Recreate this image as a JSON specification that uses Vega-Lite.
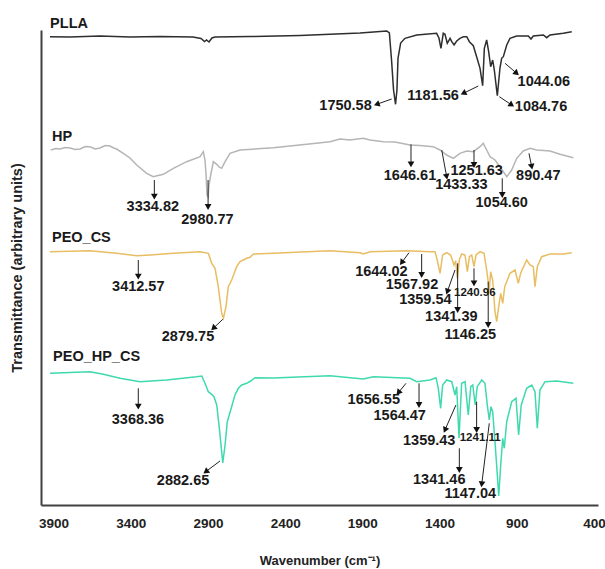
{
  "$schema": "https://vega.github.io/schema/vega-lite/v6.json",
  "width": 557,
  "height": 475,
  "autosize": {"type": "none"},
  "padding": {"left": 41, "top": 30, "right": 7, "bottom": 64},
  "config": {"view": {"stroke": null}, "font": "Liberation Sans", "background": "white"},
  "datasets": {
    "spectra": [
      {"series": "PLLA", "w": 3923, "t": 468.3}, {"series": "PLLA", "w": 3793, "t": 468}, {"series": "PLLA", "w": 3599, "t": 469}, {"series": "PLLA", "w": 3405, "t": 468}, {"series": "PLLA", "w": 3210, "t": 468.5}, {"series": "PLLA", "w": 2997, "t": 468}, {"series": "PLLA", "w": 2945, "t": 466.5}, {"series": "PLLA", "w": 2922, "t": 463.5}, {"series": "PLLA", "w": 2909, "t": 465}, {"series": "PLLA", "w": 2893, "t": 463}, {"series": "PLLA", "w": 2874, "t": 467}, {"series": "PLLA", "w": 2854, "t": 468}, {"series": "PLLA", "w": 2627, "t": 468.5}, {"series": "PLLA", "w": 2304, "t": 469.5}, {"series": "PLLA", "w": 2110, "t": 470.7}, {"series": "PLLA", "w": 1915, "t": 472}, {"series": "PLLA", "w": 1742, "t": 474}, {"series": "PLLA", "w": 1725, "t": 472}, {"series": "PLLA", "w": 1711, "t": 445}, {"series": "PLLA", "w": 1698, "t": 415}, {"series": "PLLA", "w": 1685, "t": 400.7}, {"series": "PLLA", "w": 1676, "t": 415}, {"series": "PLLA", "w": 1669, "t": 447}, {"series": "PLLA", "w": 1652, "t": 462}, {"series": "PLLA", "w": 1624, "t": 466.7}, {"series": "PLLA", "w": 1548, "t": 470}, {"series": "PLLA", "w": 1419, "t": 471.7}, {"series": "PLLA", "w": 1404, "t": 467}, {"series": "PLLA", "w": 1391, "t": 456.7}, {"series": "PLLA", "w": 1376, "t": 471.7}, {"series": "PLLA", "w": 1365, "t": 470.7}, {"series": "PLLA", "w": 1350, "t": 461.7}, {"series": "PLLA", "w": 1332, "t": 466.7}, {"series": "PLLA", "w": 1321, "t": 463.3}, {"series": "PLLA", "w": 1306, "t": 460}, {"series": "PLLA", "w": 1289, "t": 464}, {"series": "PLLA", "w": 1268, "t": 466.7}, {"series": "PLLA", "w": 1246, "t": 468.3}, {"series": "PLLA", "w": 1224, "t": 468.3}, {"series": "PLLA", "w": 1207, "t": 463.3}, {"series": "PLLA", "w": 1181.5, "t": 459.3}, {"series": "PLLA", "w": 1160, "t": 448.3}, {"series": "PLLA", "w": 1138, "t": 436.7}, {"series": "PLLA", "w": 1121, "t": 419.3}, {"series": "PLLA", "w": 1110, "t": 456.7}, {"series": "PLLA", "w": 1095, "t": 465}, {"series": "PLLA", "w": 1082, "t": 453.3}, {"series": "PLLA", "w": 1069, "t": 438.3}, {"series": "PLLA", "w": 1056, "t": 445}, {"series": "PLLA", "w": 1045.5, "t": 435}, {"series": "PLLA", "w": 1026, "t": 409.3}, {"series": "PLLA", "w": 1009, "t": 436.7}, {"series": "PLLA", "w": 998, "t": 446.7}, {"series": "PLLA", "w": 987, "t": 448.3}, {"series": "PLLA", "w": 965, "t": 460}, {"series": "PLLA", "w": 944, "t": 466.7}, {"series": "PLLA", "w": 900.5, "t": 469}, {"series": "PLLA", "w": 825, "t": 469}, {"series": "PLLA", "w": 808, "t": 466}, {"series": "PLLA", "w": 793, "t": 469}, {"series": "PLLA", "w": 728, "t": 470}, {"series": "PLLA", "w": 706, "t": 467.3}, {"series": "PLLA", "w": 685, "t": 470}, {"series": "PLLA", "w": 599, "t": 471.7}, {"series": "PLLA", "w": 544, "t": 473.3},

      {"series": "HP", "w": 3918, "t": 355}, {"series": "HP", "w": 3885, "t": 356.5}, {"series": "HP", "w": 3858, "t": 356}, {"series": "HP", "w": 3825, "t": 357.5}, {"series": "HP", "w": 3793, "t": 357}, {"series": "HP", "w": 3760, "t": 355.5}, {"series": "HP", "w": 3728, "t": 356}, {"series": "HP", "w": 3695, "t": 358.5}, {"series": "HP", "w": 3664, "t": 358.3}, {"series": "HP", "w": 3630, "t": 356}, {"series": "HP", "w": 3599, "t": 357}, {"series": "HP", "w": 3565, "t": 359.5}, {"series": "HP", "w": 3534, "t": 359}, {"series": "HP", "w": 3510, "t": 357}, {"series": "HP", "w": 3491, "t": 356}, {"series": "HP", "w": 3448, "t": 351.7}, {"series": "HP", "w": 3405, "t": 347}, {"series": "HP", "w": 3361, "t": 340}, {"series": "HP", "w": 3296.5, "t": 331.7}, {"series": "HP", "w": 3254, "t": 328.3}, {"series": "HP", "w": 3223, "t": 329.5}, {"series": "HP", "w": 3189, "t": 330.7}, {"series": "HP", "w": 3124, "t": 336.7}, {"series": "HP", "w": 3037.5, "t": 343.3}, {"series": "HP", "w": 2951, "t": 348.3}, {"series": "HP", "w": 2930, "t": 353.3}, {"series": "HP", "w": 2919, "t": 345}, {"series": "HP", "w": 2912, "t": 330}, {"series": "HP", "w": 2906, "t": 310}, {"series": "HP", "w": 2899, "t": 308}, {"series": "HP", "w": 2893, "t": 320}, {"series": "HP", "w": 2882, "t": 330}, {"series": "HP", "w": 2865, "t": 343.3}, {"series": "HP", "w": 2843, "t": 340.7}, {"series": "HP", "w": 2828, "t": 338}, {"series": "HP", "w": 2811, "t": 336.7}, {"series": "HP", "w": 2789, "t": 343.3}, {"series": "HP", "w": 2757, "t": 351.7}, {"series": "HP", "w": 2692, "t": 355}, {"series": "HP", "w": 2477, "t": 357.3}, {"series": "HP", "w": 2260, "t": 360.7}, {"series": "HP", "w": 2110, "t": 363.3}, {"series": "HP", "w": 2045, "t": 366}, {"series": "HP", "w": 1980, "t": 365}, {"series": "HP", "w": 1894, "t": 366.7}, {"series": "HP", "w": 1850.5, "t": 365}, {"series": "HP", "w": 1764, "t": 363.3}, {"series": "HP", "w": 1689, "t": 363}, {"series": "HP", "w": 1591.5, "t": 360}, {"series": "HP", "w": 1527, "t": 359.5}, {"series": "HP", "w": 1441, "t": 358.3}, {"series": "HP", "w": 1397, "t": 355}, {"series": "HP", "w": 1354, "t": 350}, {"series": "HP", "w": 1311, "t": 346.7}, {"series": "HP", "w": 1268, "t": 351.7}, {"series": "HP", "w": 1224, "t": 354}, {"series": "HP", "w": 1181.5, "t": 353.3}, {"series": "HP", "w": 1138, "t": 358.3}, {"series": "HP", "w": 1117, "t": 361.7}, {"series": "HP", "w": 1095, "t": 355}, {"series": "HP", "w": 1073, "t": 348.3}, {"series": "HP", "w": 1041, "t": 345}, {"series": "HP", "w": 1009, "t": 338.3}, {"series": "HP", "w": 965, "t": 328.3}, {"series": "HP", "w": 933, "t": 335}, {"series": "HP", "w": 900.5, "t": 346.7}, {"series": "HP", "w": 858, "t": 354}, {"series": "HP", "w": 814, "t": 356.7}, {"series": "HP", "w": 771, "t": 355}, {"series": "HP", "w": 685, "t": 354}, {"series": "HP", "w": 620, "t": 350.7}, {"series": "HP", "w": 534, "t": 347.3},

      {"series": "PEO_CS", "w": 3923, "t": 253.3}, {"series": "PEO_CS", "w": 3664, "t": 254.3}, {"series": "PEO_CS", "w": 3491, "t": 251.7}, {"series": "PEO_CS", "w": 3361, "t": 249.3}, {"series": "PEO_CS", "w": 3275, "t": 250}, {"series": "PEO_CS", "w": 3124, "t": 251.7}, {"series": "PEO_CS", "w": 2951, "t": 253.3}, {"series": "PEO_CS", "w": 2897.5, "t": 251.7}, {"series": "PEO_CS", "w": 2875.5, "t": 241.7}, {"series": "PEO_CS", "w": 2854, "t": 236.7}, {"series": "PEO_CS", "w": 2833, "t": 218.3}, {"series": "PEO_CS", "w": 2811, "t": 191.7}, {"series": "PEO_CS", "w": 2800, "t": 186.7}, {"series": "PEO_CS", "w": 2783, "t": 198.3}, {"series": "PEO_CS", "w": 2768, "t": 218.3}, {"series": "PEO_CS", "w": 2746, "t": 225}, {"series": "PEO_CS", "w": 2714, "t": 238.3}, {"series": "PEO_CS", "w": 2692, "t": 243.3}, {"series": "PEO_CS", "w": 2671, "t": 245}, {"series": "PEO_CS", "w": 2649, "t": 246.7}, {"series": "PEO_CS", "w": 2627.5, "t": 247.7}, {"series": "PEO_CS", "w": 2606, "t": 251}, {"series": "PEO_CS", "w": 2477, "t": 251.7}, {"series": "PEO_CS", "w": 2110, "t": 254.3}, {"series": "PEO_CS", "w": 1915, "t": 252.3}, {"series": "PEO_CS", "w": 1894, "t": 251}, {"series": "PEO_CS", "w": 1850.5, "t": 253.3}, {"series": "PEO_CS", "w": 1613, "t": 254.3}, {"series": "PEO_CS", "w": 1462, "t": 253.3}, {"series": "PEO_CS", "w": 1429.6, "t": 253.3}, {"series": "PEO_CS", "w": 1415, "t": 245}, {"series": "PEO_CS", "w": 1397, "t": 231.7}, {"series": "PEO_CS", "w": 1380, "t": 250}, {"series": "PEO_CS", "w": 1354, "t": 252.3}, {"series": "PEO_CS", "w": 1328, "t": 250}, {"series": "PEO_CS", "w": 1306.5, "t": 240}, {"series": "PEO_CS", "w": 1295.5, "t": 244.3}, {"series": "PEO_CS", "w": 1285, "t": 226.7}, {"series": "PEO_CS", "w": 1272, "t": 245}, {"series": "PEO_CS", "w": 1257, "t": 251}, {"series": "PEO_CS", "w": 1235, "t": 250}, {"series": "PEO_CS", "w": 1220, "t": 233.3}, {"series": "PEO_CS", "w": 1207, "t": 248.3}, {"series": "PEO_CS", "w": 1192, "t": 250}, {"series": "PEO_CS", "w": 1177, "t": 238.3}, {"series": "PEO_CS", "w": 1164, "t": 250}, {"series": "PEO_CS", "w": 1138, "t": 253.3}, {"series": "PEO_CS", "w": 1112, "t": 251.7}, {"series": "PEO_CS", "w": 1095, "t": 235}, {"series": "PEO_CS", "w": 1078, "t": 215}, {"series": "PEO_CS", "w": 1069, "t": 233.3}, {"series": "PEO_CS", "w": 1056, "t": 225}, {"series": "PEO_CS", "w": 1041, "t": 193.3}, {"series": "PEO_CS", "w": 1030, "t": 183.3}, {"series": "PEO_CS", "w": 1017, "t": 198.3}, {"series": "PEO_CS", "w": 1004, "t": 211.7}, {"series": "PEO_CS", "w": 991, "t": 201.7}, {"series": "PEO_CS", "w": 978, "t": 218.3}, {"series": "PEO_CS", "w": 944, "t": 231.7}, {"series": "PEO_CS", "w": 911.5, "t": 235}, {"series": "PEO_CS", "w": 890, "t": 221.7}, {"series": "PEO_CS", "w": 875, "t": 231.7}, {"series": "PEO_CS", "w": 836, "t": 245}, {"series": "PEO_CS", "w": 814, "t": 240}, {"series": "PEO_CS", "w": 793, "t": 238.3}, {"series": "PEO_CS", "w": 782, "t": 218.3}, {"series": "PEO_CS", "w": 767, "t": 238.3}, {"series": "PEO_CS", "w": 739, "t": 248.3}, {"series": "PEO_CS", "w": 685, "t": 251}, {"series": "PEO_CS", "w": 599, "t": 251}, {"series": "PEO_CS", "w": 544, "t": 252.3},

      {"series": "PEO_HP_CS", "w": 3923, "t": 131.7}, {"series": "PEO_HP_CS", "w": 3664, "t": 133.3}, {"series": "PEO_HP_CS", "w": 3577, "t": 130.7}, {"series": "PEO_HP_CS", "w": 3469, "t": 126.7}, {"series": "PEO_HP_CS", "w": 3340, "t": 123.3}, {"series": "PEO_HP_CS", "w": 3167, "t": 125}, {"series": "PEO_HP_CS", "w": 2973, "t": 128.3}, {"series": "PEO_HP_CS", "w": 2940, "t": 129}, {"series": "PEO_HP_CS", "w": 2919, "t": 121.7}, {"series": "PEO_HP_CS", "w": 2897.5, "t": 113.3}, {"series": "PEO_HP_CS", "w": 2875.5, "t": 110.7}, {"series": "PEO_HP_CS", "w": 2861, "t": 108.3}, {"series": "PEO_HP_CS", "w": 2843, "t": 100}, {"series": "PEO_HP_CS", "w": 2826, "t": 76.7}, {"series": "PEO_HP_CS", "w": 2811, "t": 53.3}, {"series": "PEO_HP_CS", "w": 2804, "t": 42}, {"series": "PEO_HP_CS", "w": 2789, "t": 60}, {"series": "PEO_HP_CS", "w": 2774.5, "t": 83.3}, {"series": "PEO_HP_CS", "w": 2752.5, "t": 95}, {"series": "PEO_HP_CS", "w": 2725, "t": 110}, {"series": "PEO_HP_CS", "w": 2703, "t": 116.7}, {"series": "PEO_HP_CS", "w": 2681, "t": 120}, {"series": "PEO_HP_CS", "w": 2649, "t": 121.7}, {"series": "PEO_HP_CS", "w": 2623, "t": 124}, {"series": "PEO_HP_CS", "w": 2595, "t": 127.3}, {"series": "PEO_HP_CS", "w": 2477, "t": 127}, {"series": "PEO_HP_CS", "w": 2110, "t": 129.3}, {"series": "PEO_HP_CS", "w": 1894, "t": 126}, {"series": "PEO_HP_CS", "w": 1829, "t": 128.3}, {"series": "PEO_HP_CS", "w": 1591.5, "t": 126.7}, {"series": "PEO_HP_CS", "w": 1548, "t": 123.3}, {"series": "PEO_HP_CS", "w": 1462, "t": 125}, {"series": "PEO_HP_CS", "w": 1423, "t": 127.3}, {"series": "PEO_HP_CS", "w": 1408, "t": 116.7}, {"series": "PEO_HP_CS", "w": 1393, "t": 96.7}, {"series": "PEO_HP_CS", "w": 1380, "t": 120}, {"series": "PEO_HP_CS", "w": 1354, "t": 125}, {"series": "PEO_HP_CS", "w": 1321, "t": 123.3}, {"series": "PEO_HP_CS", "w": 1300, "t": 110}, {"series": "PEO_HP_CS", "w": 1289, "t": 118.3}, {"series": "PEO_HP_CS", "w": 1274, "t": 67}, {"series": "PEO_HP_CS", "w": 1257, "t": 121.7}, {"series": "PEO_HP_CS", "w": 1235, "t": 123.3}, {"series": "PEO_HP_CS", "w": 1214, "t": 90}, {"series": "PEO_HP_CS", "w": 1198, "t": 118.3}, {"series": "PEO_HP_CS", "w": 1185, "t": 120}, {"series": "PEO_HP_CS", "w": 1169, "t": 100}, {"series": "PEO_HP_CS", "w": 1156, "t": 118.3}, {"series": "PEO_HP_CS", "w": 1127, "t": 125}, {"series": "PEO_HP_CS", "w": 1106, "t": 121.7}, {"series": "PEO_HP_CS", "w": 1091, "t": 100}, {"series": "PEO_HP_CS", "w": 1078, "t": 85}, {"series": "PEO_HP_CS", "w": 1067, "t": 98.3}, {"series": "PEO_HP_CS", "w": 1056, "t": 93.3}, {"series": "PEO_HP_CS", "w": 1041, "t": 63.3}, {"series": "PEO_HP_CS", "w": 1026, "t": 30}, {"series": "PEO_HP_CS", "w": 1017, "t": 9}, {"series": "PEO_HP_CS", "w": 1004, "t": 40}, {"series": "PEO_HP_CS", "w": 991, "t": 66.7}, {"series": "PEO_HP_CS", "w": 981, "t": 56.7}, {"series": "PEO_HP_CS", "w": 965, "t": 83.3}, {"series": "PEO_HP_CS", "w": 933, "t": 103.3}, {"series": "PEO_HP_CS", "w": 905, "t": 106.7}, {"series": "PEO_HP_CS", "w": 888, "t": 70}, {"series": "PEO_HP_CS", "w": 871, "t": 100}, {"series": "PEO_HP_CS", "w": 836, "t": 116.7}, {"series": "PEO_HP_CS", "w": 803, "t": 120}, {"series": "PEO_HP_CS", "w": 782, "t": 113.3}, {"series": "PEO_HP_CS", "w": 767, "t": 76.7}, {"series": "PEO_HP_CS", "w": 750, "t": 115}, {"series": "PEO_HP_CS", "w": 717, "t": 123.3}, {"series": "PEO_HP_CS", "w": 641.5, "t": 124}, {"series": "PEO_HP_CS", "w": 534, "t": 121.7}
    ],
    "arrows": [
      {"w": 1710, "t": 406, "w2": 1807, "t2": 400.7},
      {"w": 1149, "t": 419, "w2": 1246, "t2": 411.7},
      {"w": 976, "t": 441.7, "w2": 900.5, "t2": 431.7},
      {"w": 1013, "t": 408.3, "w2": 933, "t2": 400},
      {"w": 3247, "t": 325, "w2": 3247, "t2": 308.3},
      {"w": 2899, "t": 325, "w2": 2899, "t2": 298},
      {"w": 1585, "t": 360.7, "w2": 1585, "t2": 340.7},
      {"w": 1386, "t": 355, "w2": 1354, "t2": 328.3},
      {"w": 1177, "t": 355, "w2": 1177, "t2": 340},
      {"w": 994, "t": 326.7, "w2": 994, "t2": 310},
      {"w": 821, "t": 351.7, "w2": 803.4, "t2": 338.3},
      {"w": 3351, "t": 245, "w2": 3351, "t2": 228.3},
      {"w": 2804, "t": 185.7, "w2": 2865, "t2": 176.7},
      {"w": 1598, "t": 252.3, "w2": 1645.5, "t2": 242.3},
      {"w": 1516, "t": 251, "w2": 1516, "t2": 230},
      {"w": 1300, "t": 235, "w2": 1350, "t2": 213.3},
      {"w": 1177, "t": 236.7, "w2": 1177, "t2": 221.7},
      {"w": 1283, "t": 241.7, "w2": 1283, "t2": 195},
      {"w": 1085, "t": 223.3, "w2": 1085, "t2": 180},
      {"w": 3351, "t": 116.7, "w2": 3351, "t2": 98.3},
      {"w": 2822, "t": 44, "w2": 2914, "t2": 33.3},
      {"w": 1617, "t": 121.7, "w2": 1667, "t2": 112.3},
      {"w": 1533, "t": 121.7, "w2": 1533, "t2": 100},
      {"w": 1294, "t": 100, "w2": 1365, "t2": 75},
      {"w": 1160, "t": 103.3, "w2": 1160, "t2": 75},
      {"w": 1272, "t": 56.7, "w2": 1272, "t2": 35},
      {"w": 1078, "t": 81.7, "w2": 1127, "t2": 20.7}
    ],
    "notes": [
      {"label": "1750.58", "w": 2009, "t": 399.3},
      {"label": "1181.56", "w": 1442.5, "t": 409.3},
      {"label": "1044.06", "w": 725, "t": 423.3},
      {"label": "1084.76", "w": 743, "t": 398.3},
      {"label": "3334.82", "w": 3257, "t": 298.3},
      {"label": "2980.77", "w": 2903, "t": 285},
      {"label": "1646.61", "w": 1591.5, "t": 329.3},
      {"label": "1433.33", "w": 1259, "t": 320},
      {"label": "1251.63", "w": 1159.6, "t": 334},
      {"label": "1054.60", "w": 997.6, "t": 301.7},
      {"label": "890.47", "w": 760.7, "t": 329.3},
      {"label": "3412.57", "w": 3351, "t": 218.3},
      {"label": "2879.75", "w": 3029, "t": 168.3},
      {"label": "1644.02", "w": 1777, "t": 232.7},
      {"label": "1567.92", "w": 1578.5, "t": 220},
      {"label": "1359.54", "w": 1492, "t": 205},
      {"label": "1240.96", "w": 1172, "t": 212.3},
      {"label": "1341.39", "w": 1324, "t": 188.3},
      {"label": "1146.25", "w": 1201, "t": 170},
      {"label": "3368.36", "w": 3353, "t": 85},
      {"label": "2882.65", "w": 3061, "t": 24},
      {"label": "1656.55", "w": 1826, "t": 105},
      {"label": "1564.47", "w": 1658, "t": 89},
      {"label": "1359.43", "w": 1467, "t": 64},
      {"label": "1241.11", "w": 1137, "t": 66.7},
      {"label": "1341.46", "w": 1402, "t": 25},
      {"label": "1147.04", "w": 1201, "t": 10.7}
    ],
    "titles": [
      {"name": "PLLA", "w": 3922, "t": 481},
      {"name": "HP", "w": 3910, "t": 368.3},
      {"name": "PEO_CS", "w": 3910, "t": 266.7},
      {"name": "PEO_HP_CS", "w": 3903, "t": 148}
    ]
  },
  "encoding": {
    "x": {
      "field": "w", "type": "quantitative",
      "scale": {"domain": [374, 3981], "reverse": true, "nice": false, "zero": false},
      "axis": {
        "title": "Wavenumber (cm⁻¹)", "values": [3900, 3400, 2900, 2400, 1900, 1400, 900, 400],
        "format": "d", "grid": false, "ticks": false, "labelFlush": false,
        "labelFontSize": 13.5, "labelFontWeight": "bold", "labelColor": "#222222", "labelPadding": 11,
        "titleFontSize": 13, "titleFontWeight": "bold", "titleColor": "#222222", "titlePadding": 25,
        "domainColor": "#404040", "domainWidth": 2
      }
    },
    "y": {
      "field": "t", "type": "quantitative",
      "scale": {"domain": [0, 475], "nice": false, "zero": false},
      "axis": {
        "title": "Transmittance (arbitrary units)", "labels": false, "ticks": false, "grid": false,
        "titleFontSize": 14.5, "titleFontWeight": "bold", "titleColor": "#222222", "titlePadding": 17,
        "domainColor": "#404040", "domainWidth": 2
      }
    }
  },
  "layer": [
    {
      "data": {"name": "spectra"},
      "mark": {"type": "line", "strokeWidth": 1.5},
      "encoding": {
        "color": {
          "field": "series", "type": "nominal",
          "scale": {"domain": ["PLLA", "HP", "PEO_CS", "PEO_HP_CS"], "range": ["#2e2e2e", "#b5b5b5", "#e8bd63", "#3fd9ae"]},
          "legend": null
        }
      }
    },
    {
      "data": {"name": "arrows"},
      "mark": {"type": "rule", "color": "#222222", "strokeWidth": 1},
      "encoding": {
        "x2": {"field": "w2"},
        "y2": {"field": "t2"}
      }
    },
    {
      "data": {"name": "arrows"},
      "transform": [
        {"calculate": "(atan2((datum.w - datum.w2) * 0.15443, datum.t2 - datum.t) * 180 / PI + 360) % 360", "as": "ang"}
      ],
      "mark": {"type": "point", "shape": "triangle-up", "filled": true, "size": 45, "color": "#111111", "opacity": 1},
      "encoding": {
        "x": {"field": "w2", "type": "quantitative"},
        "y": {"field": "t2", "type": "quantitative"},
        "angle": {"field": "ang", "type": "quantitative", "scale": {"domain": [0, 360], "range": [0, 360]}}
      }
    },
    {
      "data": {"name": "notes"},
      "mark": {"type": "text", "fontWeight": "bold", "align": "center", "baseline": "middle", "color": "#1a1a1a"},
      "encoding": {
        "text": {"field": "label"},
        "size": {"condition": {"test": "datum.label == '1240.96' || datum.label == '1241.11'", "value": 11.5}, "value": 14.5}
      }
    },
    {
      "data": {"name": "titles"},
      "mark": {"type": "text", "fontWeight": "bold", "align": "left", "baseline": "middle", "fontSize": 14.5, "color": "#1a1a1a"},
      "encoding": {
        "text": {"field": "name"}
      }
    }
  ]
}
